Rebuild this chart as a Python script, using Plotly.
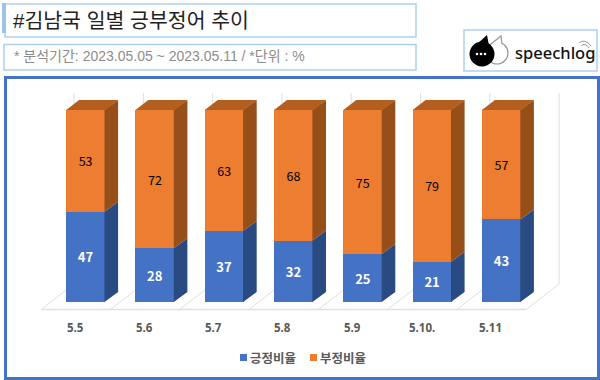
import plotly.graph_objects as go

categories = ["5.5", "5.6", "5.7", "5.8", "5.9", "5.10.", "5.11"]
positive = [47, 28, 37, 32, 25, 21, 43]
negative = [53, 72, 63, 68, 75, 79, 57]
series_names = ["긍정비율", "부정비율"]
title_text = "#김남국 일별 긍부정어 추이"
subtitle_text = "* 분석기간: 2023.05.05 ~ 2023.05.11 / *단위 : %"

W, H = 600, 380
PX_CAT = 69.3
X0 = 85.6
PX_UNIT = 1.92
Y0 = 302
BAR_W = 39 / PX_CAT
DX = 13 / PX_CAT
DY = 10 / PX_UNIT
FONT = "Noto Sans CJK KR"
MIXED = "Liberation Sans, Noto Sans CJK KR"
BLUE, BLUE_SIDE = "#4472C4", "#2A4A82"
ORANGE, ORANGE_SIDE, ORANGE_TOP = "#ED7D31", "#974F1A", "#B45E20"
GRID = "#E0E0E0"
OVERLAP = 0.6 / PX_CAT


def px(x):
    return x / W


def py(y):
    return 1 - y / H


def side_polys(lows, highs):
    xs, ys = [], []
    for i, (a, b) in enumerate(zip(lows, highs)):
        r = i + BAR_W / 2 - OVERLAP
        xs += [r, r + DX + OVERLAP, r + DX + OVERLAP, r, r, None]
        ys += [a, a + DY, b + DY, b, a, None]
    return xs, ys


def top_polys(tops):
    xs, ys = [], []
    for i, t in enumerate(tops):
        l, r = i - BAR_W / 2, i + BAR_W / 2
        xs += [l, l + DX, r + DX, r, l, None]
        ys += [t, t + DY, t + DY, t, t, None]
    return xs, ys


def poly_trace(xy, color):
    return go.Scatter(x=xy[0], y=xy[1], mode="lines", fill="toself", fillcolor=color,
                      line=dict(width=0, color=color), hoverinfo="skip", showlegend=False)


idx = list(range(len(categories)))
totals = [p + n for p, n in zip(positive, negative)]
fig = go.Figure()
fig.add_trace(go.Bar(x=idx, y=positive, name=series_names[0], width=BAR_W, marker_color=BLUE,
                     marker_line_width=0, text=positive, textposition="inside",
                     insidetextanchor="middle", textangle=0,
                     textfont=dict(color="white", size=13, family=FONT, weight="bold")))
fig.add_trace(go.Bar(x=idx, y=negative, name=series_names[1], width=BAR_W, marker_color=ORANGE,
                     marker_line_width=0, text=negative, textposition="inside",
                     insidetextanchor="middle", textangle=0,
                     textfont=dict(color="black", size=12.5, family=FONT)))
fig.add_trace(poly_trace(side_polys([0] * len(idx), positive), BLUE_SIDE))
fig.add_trace(poly_trace(side_polys(positive, totals), ORANGE_SIDE))
fig.add_trace(poly_trace(top_polys(totals), ORANGE_TOP))

shapes = []
# Floor and back wall
fx0 = (41 - X0) / PX_CAT
fy, by, ty = (Y0 - 309.5) / PX_UNIT, (Y0 - 284) / PX_UNIT, (Y0 - 93) / PX_UNIT
bdx = 33 / PX_CAT
shapes.append(dict(type="line", x0=fx0, x1=fx0 + len(idx), y0=fy, y1=fy, layer="below",
                   line=dict(color=GRID, width=1.3)))
for k in range(len(idx) + 1):
    shapes.append(dict(type="line", x0=fx0 + k, x1=fx0 + k + bdx, y0=fy, y1=by, layer="below",
                       line=dict(color=GRID, width=1)))
    shapes.append(dict(type="line", x0=fx0 + k + bdx, x1=fx0 + k + bdx, y0=by, y1=ty, layer="below",
                       line=dict(color=GRID, width=1)))


def rect(x0, y0, x1, y1, line=None, width=0, fill=None):
    shapes.append(dict(type="rect", xref="paper", yref="paper", x0=px(x0), x1=px(x1), y0=py(y0), y1=py(y1),
                       line=dict(color=line or "rgba(0,0,0,0)", width=width), fillcolor=fill or "rgba(0,0,0,0)"))


def circle(cx, cy, r, line=None, width=0, fill=None):
    shapes.append(dict(type="circle", xref="paper", yref="paper", x0=px(cx - r), x1=px(cx + r), y0=py(cy - r),
                       y1=py(cy + r), line=dict(color=line or "rgba(0,0,0,0)", width=width),
                       fillcolor=fill or "rgba(0,0,0,0)"))


def path(points, fill):
    d = "M" + " L".join(f"{px(a):.4f},{py(b):.4f}" for a, b in points) + " Z"
    shapes.append(dict(type="path", xref="paper", yref="paper", path=d, fillcolor=fill,
                       line=dict(width=0, color=fill)))


def stroke(d, color="#999999", width=1.2):
    shapes.append(dict(type="path", xref="paper", yref="paper", path=d, fillcolor="rgba(0,0,0,0)",
                       line=dict(color=color, width=width)))


PANEL = "#ADCFEC"
rect(5, 4, 416, 37, line=PANEL, width=1.5)
rect(2, 3, 6, 33, fill="#9DC3E6")
rect(4, 44.5, 416, 70, line=PANEL, width=1.5)
rect(464, 30, 597, 71, line=PANEL, width=1.5)
rect(5.5, 77.5, 598.5, 378.5, line="#4472C4", width=3)

# Logo
circle(497, 53, 11, line="#999999", width=1.2, fill="white")
path([(491, 44), (501, 36), (502, 44)], "white")
stroke(f"M{px(491)},{py(44)} L{px(501)},{py(36)} L{px(502)},{py(44)}")
circle(482, 54, 12.5, fill="black")
path([(476, 45), (487, 35), (489, 46)], "black")
for cx in (477, 481, 485):
    circle(cx, 54, 1.3, fill="white")
stroke(f"M{px(579)},{py(43)} Q{px(585)},{py(38)} {px(591)},{py(46)}", width=1)
stroke(f"M{px(581)},{py(46)} Q{px(585)},{py(42)} {px(589)},{py(48)}", width=1)

annotations = [
    dict(x=px(11), y=py(21), text=title_text, xanchor="left", yanchor="middle", xref="paper", yref="paper",
         showarrow=False, font=dict(size=20.5, color="#222222", family=MIXED)),
    dict(x=px(12), y=py(56.5), text=subtitle_text, xanchor="left", yanchor="middle", xref="paper", yref="paper",
         showarrow=False, font=dict(size=14, color="#8C8C8C", family=MIXED)),
    dict(x=px(512.5), y=py(52.5), text="speechlog", xanchor="left", yanchor="middle", xref="paper", yref="paper",
         showarrow=False, font=dict(size=16.5, color="#111111", family="Noto Sans", weight=500)),
]
for i, c in enumerate(categories):
    annotations.append(dict(x=i - 10.6 / PX_CAT, y=(Y0 - 327) / PX_UNIT, text=c, showarrow=False,
                            xanchor="center", yanchor="middle",
                            font=dict(size=11.5, color="#595959", family="Noto Sans", weight="bold")))

# Legend
leg_y = (Y0 - 357.5) / PX_UNIT
leg_x = [(243.5 - X0) / PX_CAT, (313.5 - X0) / PX_CAT]
for lx, name, color in zip(leg_x, series_names, [BLUE, ORANGE]):
    fig.add_trace(go.Scatter(x=[lx], y=[leg_y], mode="markers", hoverinfo="skip", showlegend=False,
                             marker=dict(symbol="square", size=7, color=color)))
    annotations.append(dict(x=lx + 4.5 / PX_CAT, y=leg_y, text=name, showarrow=False, xanchor="left",
                            yanchor="middle", font=dict(size=12.5, color="#595959", family=FONT, weight="bold")))

fig.update_layout(
    width=W, height=H, autosize=False, margin=dict(l=0, r=0, t=0, b=0),
    paper_bgcolor="white", plot_bgcolor="rgba(0,0,0,0)", barmode="stack", showlegend=False,
    xaxis=dict(range=[-X0 / PX_CAT, (W - X0) / PX_CAT], visible=False, fixedrange=True),
    yaxis=dict(range=[-(H - Y0) / PX_UNIT, Y0 / PX_UNIT], visible=False, fixedrange=True),
    shapes=shapes, annotations=annotations,
)
fig.write_html("out.html", config=dict(displayModeBar=False),
               post_script="document.body.style.margin='0';document.body.style.overflow='hidden';")
